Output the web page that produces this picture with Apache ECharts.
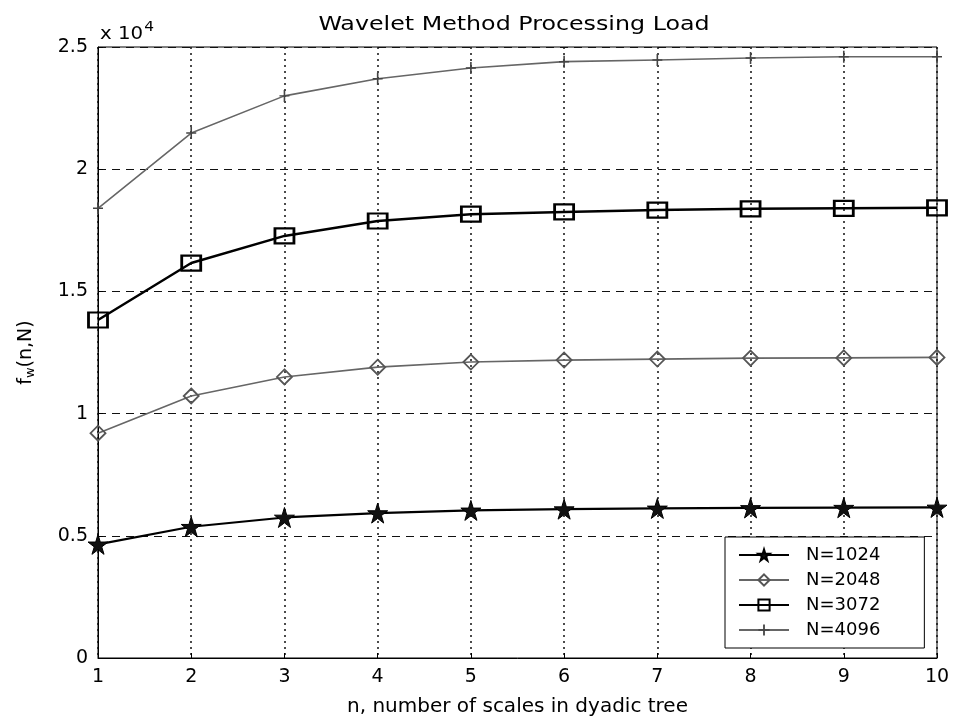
<!DOCTYPE html>
<html>
<head>
<meta charset="utf-8">
<script src="https://cdn.jsdelivr.net/npm/echarts@6/dist/echarts.min.js"></script>
<style>
html,body{margin:0;padding:0;background:#fff;}
#chart{width:953px;height:718px;}
</style>
</head>
<body>
<div id="chart"></div>
<script>
const scales = [1, 2, 3, 4, 5, 6, 7, 8, 9, 10];
const n1024 = [4650, 5370, 5750, 5930, 6040, 6090, 6120, 6140, 6150, 6160];
const n2048 = [9200, 10720, 11500, 11900, 12110, 12190, 12230, 12270, 12280, 12300];
const n3072 = [13830, 16160, 17270, 17880, 18160, 18250, 18330, 18380, 18400, 18420];
const n4096 = [18400, 21480, 23000, 23700, 24140, 24400, 24470, 24550, 24600, 24600];
const seriesNames = ['N=1024', 'N=2048', 'N=3072', 'N=4096'];
const yTicks = [0, 5000, 10000, 15000, 20000, 25000];

const FONT = 'DejaVu Sans';
const pairs = arr => scales.map((x, i) => [x, arr[i]]);
const STAR = 'path://M50,0 L61,35 L98,35 L68,57 L79,91 L50,70 L21,91 L32,57 L2,35 L39,35 Z';
const PLUS = 'path://M0,44H100V56H0Z M42,0H58V100H42Z';

const chart = echarts.init(document.getElementById('chart'), null, {renderer: 'canvas'});
chart.setOption({
  backgroundColor: '#fff',
  animation: false,
  textStyle: {fontFamily: FONT, color: '#000'},
  grid: {left: 98, right: 16, top: 47, bottom: 60, show: true, borderColor: '#000', borderWidth: 1,
    outerBoundsMode: 'none', containLabel: false},
  graphic: [
    {type: 'text', x: 514, y: 25, scaleX: 1.25, style: {text: 'Wavelet Method Processing Load', font: '19px "DejaVu Sans"', fill: '#000', align: 'center', verticalAlign: 'middle'}},
    {type: 'text', x: 100, y: 18, scaleX: 1.1, style: {
      text: '{b|x 10}{s|4}', fill: '#000',
      rich: {b: {fontFamily: FONT, fontSize: 18, padding: [7, 0, 0, 0]}, s: {fontFamily: FONT, fontSize: 14, padding: [0, 0, 7, 1]}}
    }}
  ],
  xAxis: {
    type: 'value', min: 1, max: 10, interval: 1,
    name: 'n, number of scales in dyadic tree', nameLocation: 'middle', nameGap: 39,
    nameTextStyle: {fontFamily: FONT, fontSize: 20, color: '#000'},
    axisLine: {lineStyle: {color: '#000', width: 1}},
    axisTick: {inside: true, length: 5, lineStyle: {color: '#000'}},
    axisLabel: {fontFamily: FONT, fontSize: 19, color: '#000', margin: 10},
    splitLine: {show: true, lineStyle: {color: '#111', width: 1.5, type: [2, 4]}}
  },
  yAxis: {
    type: 'value', min: 0, max: 25000, interval: 5000,
    name: '{a|f}{s|w}{a|(n,N)}', nameLocation: 'middle', nameGap: 60, nameRotate: 90,
    nameTextStyle: {color: '#000', rich: {a: {fontFamily: FONT, fontSize: 19, lineHeight: 24}, s: {fontFamily: FONT, fontSize: 13, lineHeight: 24, padding: [10, 0, 0, 0]}}},
    axisLine: {lineStyle: {color: '#000', width: 1}},
    axisTick: {inside: true, length: 5, lineStyle: {color: '#000'}},
    axisLabel: {fontFamily: FONT, fontSize: 19, color: '#000', margin: 10,
      formatter: v => (yTicks.indexOf(v) >= 0 ? String(v / 10000) : '')},
    splitLine: {show: true, lineStyle: {color: '#111', width: 1, type: [8, 6]}}
  },
  legend: {
    orient: 'vertical', left: 725, top: 537,
    padding: [9, 44, 9, 13], itemGap: 7, itemWidth: 50, itemHeight: 14,
    backgroundColor: '#fff', borderColor: '#000', borderWidth: 1,
    textStyle: {fontFamily: FONT, fontSize: 18, color: '#000', padding: [0, 0, 0, 12]},
    data: seriesNames
  },
  series: [
    {name: seriesNames[0], type: 'line', data: pairs(n1024), symbol: STAR, symbolSize: 20,
      lineStyle: {color: '#000', width: 2.2}, itemStyle: {color: '#111', borderColor: '#000', borderWidth: 1}},
    {name: seriesNames[1], type: 'line', data: pairs(n2048), symbol: 'diamond', symbolSize: 15,
      lineStyle: {color: '#666', width: 1.6}, itemStyle: {color: 'rgba(255,255,255,0)', borderColor: '#555', borderWidth: 1.8}},
    {name: seriesNames[2], type: 'line', data: pairs(n3072), symbol: 'rect', symbolSize: [19, 15],
      lineStyle: {color: '#000', width: 2.5}, itemStyle: {color: 'rgba(255,255,255,0)', borderColor: '#000', borderWidth: 2.5}},
    {name: seriesNames[3], type: 'line', data: pairs(n4096), symbol: PLUS, symbolSize: [10, 12],
      lineStyle: {color: '#666', width: 1.6}, itemStyle: {color: '#444'}}
  ]
});
</script>
</body>
</html>
